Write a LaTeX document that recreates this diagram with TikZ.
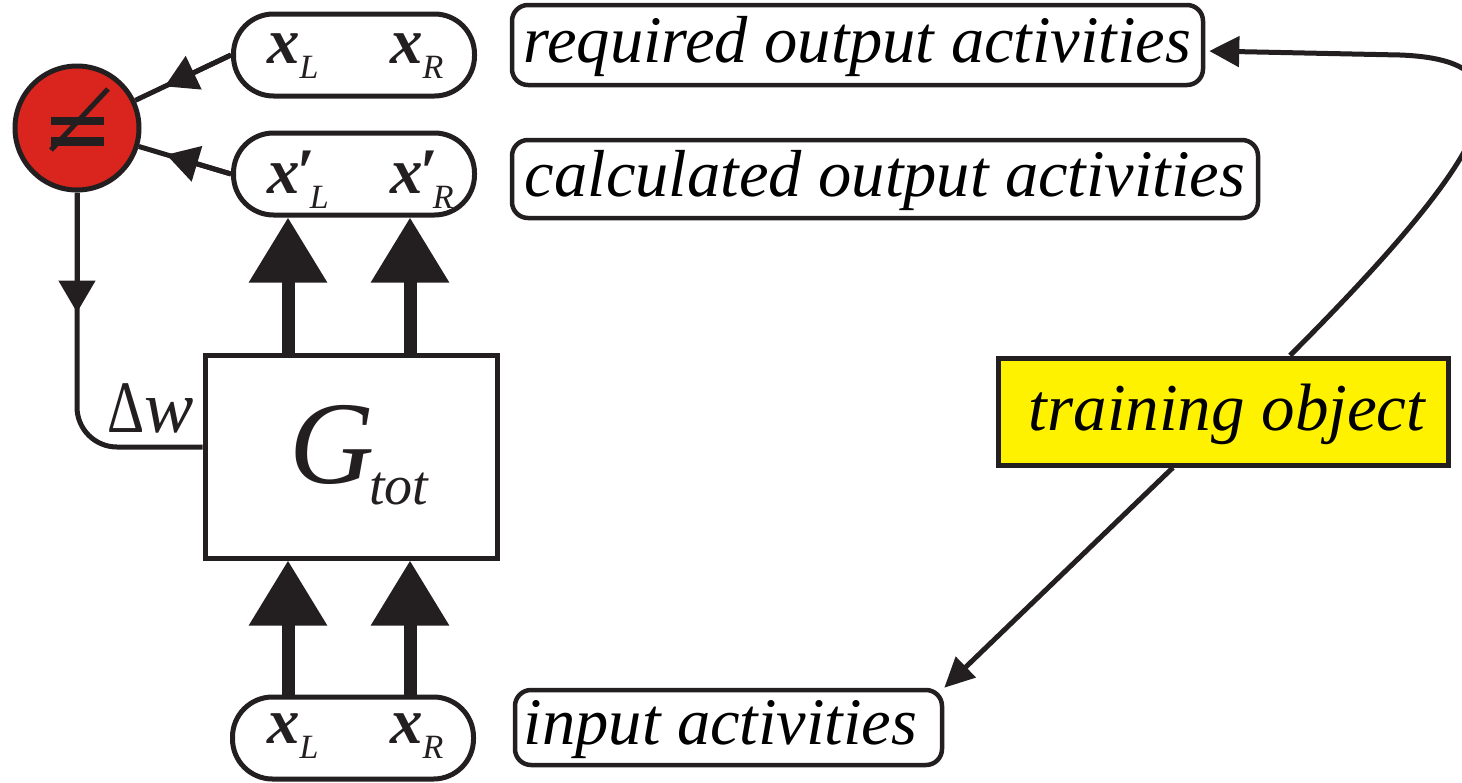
\documentclass[tikz,border=0pt]{standalone}
\usepackage{fontspec}
\setmainfont{Liberation Serif}
\usetikzlibrary{arrows.meta,calc}
\definecolor{ink}{RGB}{35,31,32}
\definecolor{stopred}{RGB}{217,37,29}
\definecolor{signyellow}{RGB}{255,242,0}
% variable with a subscript, as printed inside the capsules
\newcommand\subv[1]{\raisebox{-15pt}{\fontsize{34}{36}\selectfont\itshape #1}}
\newcommand\pvar[2]{{\fontsize{65}{70}\selectfont\bfseries\itshape #1}\subv{#2}}
\newcommand\pvarp[2]{{\fontsize{65}{70}\selectfont\bfseries\itshape #1\kern-3pt′}\kern-5pt\subv{#2}}
\begin{document}
\begin{tikzpicture}[x=1pt,y=-1pt,
  pill/.style={draw=ink, line width=5pt, rounded corners=40pt, minimum width=241pt, minimum height=82pt, inner sep=0pt},
  tag/.style={draw=ink, line width=4.5pt, rounded corners=16pt, inner sep=0pt,
    font=\fontsize{66.5}{70}\selectfont\itshape, text height=48pt, text depth=14pt},
  wire/.style={draw=ink, line width=5pt},
  thinhead/.style={-{Triangle[length=32pt,width=36pt]}},
  bigarrow/.style={draw=ink, line width=13pt, -{Triangle[length=65pt,width=75pt]}},
  txt/.style={inner sep=0pt, text=ink}]
\useasboundingbox (0,0) rectangle (1462,782);

% capsules with the activity vectors
\node[pill] (pReq)  at (354,55)  {};
\node[pill] (pCalc) at (354,174) {};
\node[pill] (pIn)   at (353,738) {};
\node[txt, anchor=base west] (rL) at (267,63)  {\pvar{x}{L}};
\node[txt, anchor=base west] (rR) at (390,63)  {\pvar{x}{R}};
\node[txt, anchor=base west] (cL) at (267,193) {\pvarp{x}{L}};
\node[txt, anchor=base west] (cR) at (390,193) {\pvarp{x}{R}};
\node[txt, anchor=base west] (iL) at (267,743) {\pvar{x}{L}};
\node[txt, anchor=base west] (iR) at (390,743) {\pvar{x}{R}};

% descriptive tags
\node[tag, minimum width=691pt, minimum height=80pt] (reqBox)  at (857.5,45)  {required output activities};
\node[tag, minimum width=746pt, minimum height=78pt] (calcBox) at (885,179)   {calculated output activities};
\node[tag, minimum width=427pt, minimum height=75pt] (inBox)   at (728.5,727.5) {\hspace*{-16pt}input activities};

% comparator
\node[circle, draw=ink, fill=stopred, line width=5pt, minimum size=124pt, inner sep=0pt] (cmp) at (77,128) {};
\draw[ink, line width=8.5pt] ($(cmp.center)+(-26,-7)$) -- ($(cmp.center)+(27,-7)$);
\draw[ink, line width=8.5pt] ($(cmp.center)+(-26,13.5)$) -- ($(cmp.center)+(27,13.5)$);
\draw[ink, line width=5pt] ($(cmp.center)+(-26,22)$) -- ($(cmp.center)+(31,-39)$);

% network block
\node[draw=ink, line width=5pt, minimum width=292pt, minimum height=203pt, inner sep=0pt] (G) at (351,456.5) {};
\node[txt, anchor=base] (gG) at (332,483) {\fontsize{118}{120}\selectfont\itshape G};
\node[txt, anchor=base west] (gT) at (369,504) {\fontsize{56}{60}\selectfont\itshape tot};

% training object
\node[draw=ink, fill=signyellow, line width=5pt, minimum width=450pt, minimum height=107pt, inner sep=0pt,
  font=\fontsize{67}{70}\selectfont\itshape, text height=50pt, text depth=13pt] (train) at (1223,411.5) {\hspace*{8pt}training object};

% comparator inputs
\draw[wire] (pReq.west) -- (cmp);
\draw[wire, thinhead] (pReq.west) -- ($(pReq.west)!0.43!(cmp.center)$);
\draw[wire] (pCalc.west) -- (cmp);
\draw[wire, thinhead] (pCalc.west) -- ($(pCalc.west)!0.42!(cmp.center)$);

% weight correction feedback
\coordinate (fbEnd) at ($(G.west)+(0,-9.5)$);
\coordinate (fbTip) at ($(cmp.south)+(0,120)$);
\draw[wire, rounded corners=40pt] (cmp.south) |- (fbEnd);
\draw[wire, thinhead] (cmp.south) -- (fbTip);
\node[txt, anchor=base west] (dw) at (107,432) {\fontsize{74}{76}\selectfont\scalebox{0.78}[1]{Δ}\textit{w}};

% signal flow through the block
\coordinate (colL) at (288,0);
\coordinate (colR) at (410,0);
\draw[bigarrow] (G.north -| colL) -- (pCalc.south -| colL);
\draw[bigarrow] (G.north -| colR) -- (pCalc.south -| colR);
\draw[bigarrow] (pIn.north -| colL) -- (G.south -| colL);
\draw[bigarrow] (pIn.north -| colR) -- (G.south -| colR);

% training object supplies inputs and targets
\coordinate (tUp) at (1290,0);
\coordinate (tDn) at (1173,0);
\coordinate (reqIn) at ($(reqBox.east)+(4,6)$);
\draw[wire, -{Triangle[length=30pt,width=30pt]}] (train.north -| tUp)
  .. controls (1505,140) and (1535,60) .. (1400,55) -- (reqIn);
\draw[wire, -{Triangle[length=30pt,width=28pt]}] (train.south -| tDn) -- (inBox.north east);
\end{tikzpicture}
\end{document}
